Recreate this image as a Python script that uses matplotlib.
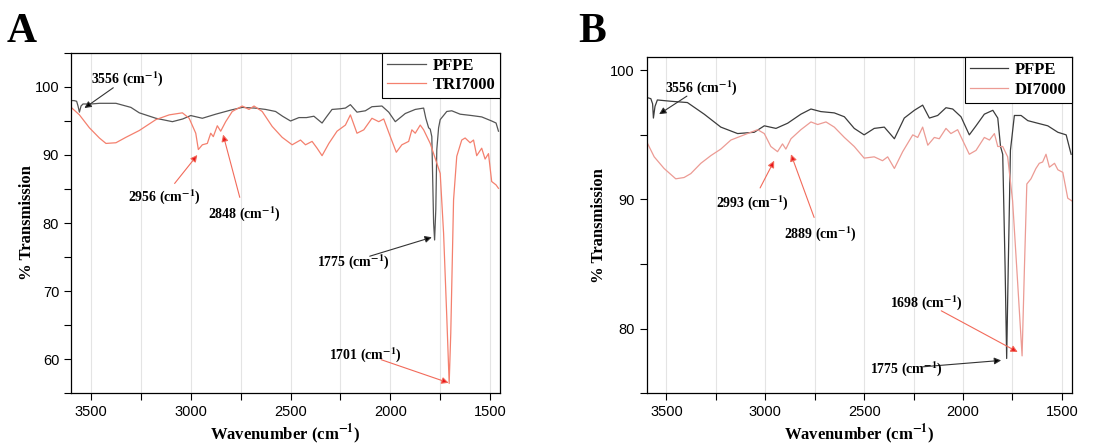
import matplotlib
matplotlib.use("Agg")
import matplotlib.pyplot as plt
from matplotlib.ticker import MultipleLocator

plt.rcParams["mathtext.fontset"] = "stix"
plt.rcParams["mathtext.default"] = "bf"

# ---- panel A data (wavenumber, % transmission) ----
pfpe_a_wn = [3603, 3585, 3572, 3565, 3558, 3550, 3540, 3500, 3458, 3375, 3300, 3258,
             3175, 3092, 3040, 3000, 2942, 2875, 2800, 2742, 2680, 2625, 2575, 2540,
             2500, 2458, 2420, 2383, 2342, 2320, 2292, 2250, 2225, 2200, 2167, 2125,
             2092, 2042, 2008, 1975, 1950, 1925, 1875, 1833, 1822, 1808, 1800, 1792,
             1783, 1778, 1772, 1767, 1758, 1750, 1717, 1692, 1650, 1592, 1542, 1492,
             1470, 1458]
pfpe_a_t = [98.0, 98.0, 97.9, 97.2, 96.3, 97.2, 97.5, 97.5, 97.6, 97.6, 97.0, 96.2,
            95.4, 94.9, 95.3, 95.8, 95.4, 96.0, 96.6, 97.0, 96.9, 96.7, 96.4, 95.7,
            95.0, 95.5, 95.5, 95.7, 94.7, 95.6, 96.7, 96.8, 96.9, 97.4, 96.3, 96.5,
            97.1, 97.2, 96.3, 94.9, 95.5, 96.1, 96.7, 96.9, 95.4, 94.0, 93.8, 92.7,
            80.0, 77.5, 82.0, 90.8, 94.0, 95.2, 96.4, 96.5, 96.0, 95.8, 95.6, 95.0,
            94.7, 93.5]

tri_wn = [3603, 3558, 3508, 3458, 3425, 3375, 3325, 3258, 3175, 3108, 3042, 3008,
          2975, 2962, 2942, 2917, 2900, 2887, 2867, 2850, 2825, 2792, 2742, 2708,
          2683, 2642, 2592, 2542, 2492, 2450, 2425, 2392, 2367, 2342, 2308, 2267,
          2225, 2200, 2167, 2133, 2092, 2058, 2033, 2000, 1970, 1942, 1908, 1892,
          1875, 1850, 1833, 1800, 1767, 1750, 1733, 1717, 1705, 1697, 1683, 1667,
          1642, 1625, 1600, 1583, 1567, 1542, 1525, 1508, 1492, 1470, 1458]
tri_t = [97.1, 95.9, 94.0, 92.5, 91.7, 91.8, 92.6, 93.6, 95.2, 95.9, 96.2, 95.4,
         93.2, 90.8, 91.5, 91.7, 93.2, 92.7, 94.3, 93.5, 94.9, 96.4, 97.2, 96.7,
         97.2, 96.4, 94.2, 92.6, 91.5, 92.2, 91.5, 92.0, 91.0, 89.9, 91.7, 93.5,
         94.4, 95.9, 93.2, 93.7, 95.4, 94.9, 95.3, 92.7, 90.4, 91.5, 92.0, 93.7,
         93.2, 94.4, 93.7, 91.7, 88.8, 87.3, 78.5, 66.2, 56.4, 63.8, 83.4, 89.8,
         92.2, 92.5, 91.8, 92.2, 89.9, 91.0, 89.4, 90.2, 86.1, 85.6, 85.1]

# ---- panel B data ----
pfpe_b_wn = [3601, 3579, 3570, 3566, 3558, 3546, 3478, 3394, 3309, 3225, 3140, 3056,
             3005, 2946, 2887, 2820, 2769, 2719, 2651, 2600, 2550, 2500, 2449, 2398,
             2347, 2297, 2246, 2204, 2170, 2128, 2086, 2052, 2010, 1968, 1934, 1892,
             1849, 1824, 1810, 1799, 1787, 1779, 1771, 1760, 1740, 1706, 1672, 1622,
             1571, 1520, 1478, 1453]
pfpe_b_t = [97.9, 97.8, 97.4, 96.3, 97.2, 97.7, 97.6, 97.5, 96.6, 95.6, 95.1, 95.2,
            95.7, 95.5, 95.9, 96.6, 97.0, 96.8, 96.7, 96.4, 95.5, 95.0, 95.5, 95.6,
            94.7, 96.3, 96.9, 97.3, 96.3, 96.5, 97.1, 97.0, 96.4, 95.0, 95.7, 96.6,
            96.9, 96.3, 94.1, 93.5, 84.8, 77.7, 84.8, 93.8, 96.5, 96.5, 96.1, 95.9,
            95.7, 95.2, 95.0, 93.5]

di_wn = [3601, 3562, 3512, 3453, 3411, 3377, 3326, 3275, 3225, 3174, 3107, 3039,
         3005, 2972, 2938, 2913, 2896, 2870, 2820, 2769, 2735, 2693, 2651, 2600,
         2550, 2500, 2449, 2407, 2381, 2347, 2305, 2254, 2229, 2204, 2178, 2145,
         2120, 2086, 2061, 2027, 1993, 1968, 1934, 1892, 1866, 1841, 1824, 1799,
         1774, 1749, 1724, 1701, 1689, 1677, 1656, 1631, 1614, 1597, 1580, 1563,
         1537, 1520, 1495, 1470, 1450]
di_t = [94.5, 93.3, 92.4, 91.6, 91.7, 92.0, 92.8, 93.4, 93.9, 94.6, 95.0, 95.4,
        95.1, 94.1, 93.7, 94.3, 93.9, 94.7, 95.4, 96.0, 95.8, 96.0, 95.6, 94.8,
        94.1, 93.2, 93.3, 93.0, 93.3, 92.4, 93.7, 95.0, 94.8, 95.6, 94.2, 94.8,
        94.7, 95.5, 95.1, 95.4, 94.3, 93.5, 93.8, 94.8, 94.6, 95.1, 94.1, 94.1,
        93.3, 89.9, 83.7, 77.9, 84.8, 91.2, 91.6, 92.4, 92.8, 92.9, 93.5, 92.5,
        92.8, 92.3, 92.1, 90.1, 89.9]

# annotations: label, arrow head (wn, T), text pos (wn, T), colour
notes_a = [
    ("3556", (3533, 96.9), (3320, 101.3), "black"),
    ("2956", (2967, 90.0), (3133, 83.9), "red"),
    ("2848", (2838, 93.0), (2733, 81.4), "red"),
    ("1775", (1792, 77.9), (2183, 74.4), "black"),
    ("1701", (1708, 56.5), (2125, 60.7), "red"),
]
notes_b = [
    ("3556", (3537, 96.6), (3326, 98.7), "black"),
    ("2993", (2955, 93.0), (3065, 89.75), "red"),
    ("2889", (2870, 93.5), (2724, 87.4), "red"),
    ("1698", (1723, 78.2), (2184, 82.0), "red"),
    ("1775", (1807, 77.55), (2288, 76.95), "black"),
]

serif = ["Liberation Serif", "DejaVu Serif"]
sans = ["Liberation Sans", "DejaVu Sans"]

fig = plt.figure(figsize=(11.1, 4.46), dpi=100)
ax_a = fig.add_axes([0.064, 0.1188, 0.3865, 0.7624])
ax_b = fig.add_axes([0.5826, 0.118, 0.3829, 0.7535])


def style_axis(ax, ylim, ymajor, ypad):
    ax.set_xlim(3600, 1450)
    ax.set_ylim(*ylim)
    ax.xaxis.set_major_locator(MultipleLocator(500))
    ax.xaxis.set_minor_locator(MultipleLocator(250))
    ax.yaxis.set_major_locator(MultipleLocator(ymajor))
    ax.yaxis.set_minor_locator(MultipleLocator(ymajor / 2))
    ax.grid(True, which="both", axis="x", color="#e4e4e4", lw=0.8)
    ax.set_axisbelow(True)
    ax.tick_params(which="both", direction="out", top=False, right=False,
                   labelsize=10.5, width=0.8, length=5)
    for lab in ax.get_xticklabels() + ax.get_yticklabels():
        lab.set_family(sans)
    for sp in ax.spines.values():
        sp.set_linewidth(0.9)
    ax.set_xlabel("Wavenumber (cm$^{-1}$)", family=serif, fontweight="bold",
                  fontsize=12, labelpad=2)
    ax.set_ylabel("% Transmission", family=serif, fontweight="bold",
                  fontsize=12, labelpad=ypad)


def add_notes(ax, notes):
    for label, head, text, col in notes:
        line_col = "#333333" if col == "black" else "#f26a5a"
        head_col = "black" if col == "black" else "#e8141c"
        ax.annotate("", xy=head, xytext=text,
                    arrowprops=dict(arrowstyle="-|>", color=line_col, lw=0.8,
                                    mutation_scale=10, shrinkA=12, shrinkB=0,
                                    fc=head_col, ec=line_col))
        ax.text(text[0], text[1], label + " (cm$^{-1}$)", family=serif,
                fontweight="bold", fontsize=10, ha="center", va="center")


style_axis(ax_a, (55, 105), 10, 0)
ax_a.plot(pfpe_a_wn, pfpe_a_t, color="#555555", lw=0.9, label="PFPE")
ax_a.plot(tri_wn, tri_t, color="#f4806e", lw=0.9, label="TRI7000")
add_notes(ax_a, notes_a)

style_axis(ax_b, (75, 101), 10, 2)
ax_b.plot(pfpe_b_wn, pfpe_b_t, color="#3c3c3c", lw=0.9, label="PFPE")
ax_b.plot(di_wn, di_t, color="#ec9b94", lw=0.9, label="DI7000")
add_notes(ax_b, notes_b)

for ax in (ax_a, ax_b):
    leg = ax.legend(loc="upper right", borderaxespad=0, fancybox=False,
                    framealpha=1, edgecolor="black", handlelength=2.3,
                    prop={"family": serif, "weight": "bold", "size": 12},
                    borderpad=0.3, labelspacing=0.2, handletextpad=0.4)
    leg.get_frame().set_linewidth(0.8)

fig.text(0.006, 0.905, "A", family=serif, fontweight="bold", fontsize=30)
fig.text(0.521, 0.905, "B", family=serif, fontweight="bold", fontsize=30)

fig.savefig("out.png", dpi=100)
